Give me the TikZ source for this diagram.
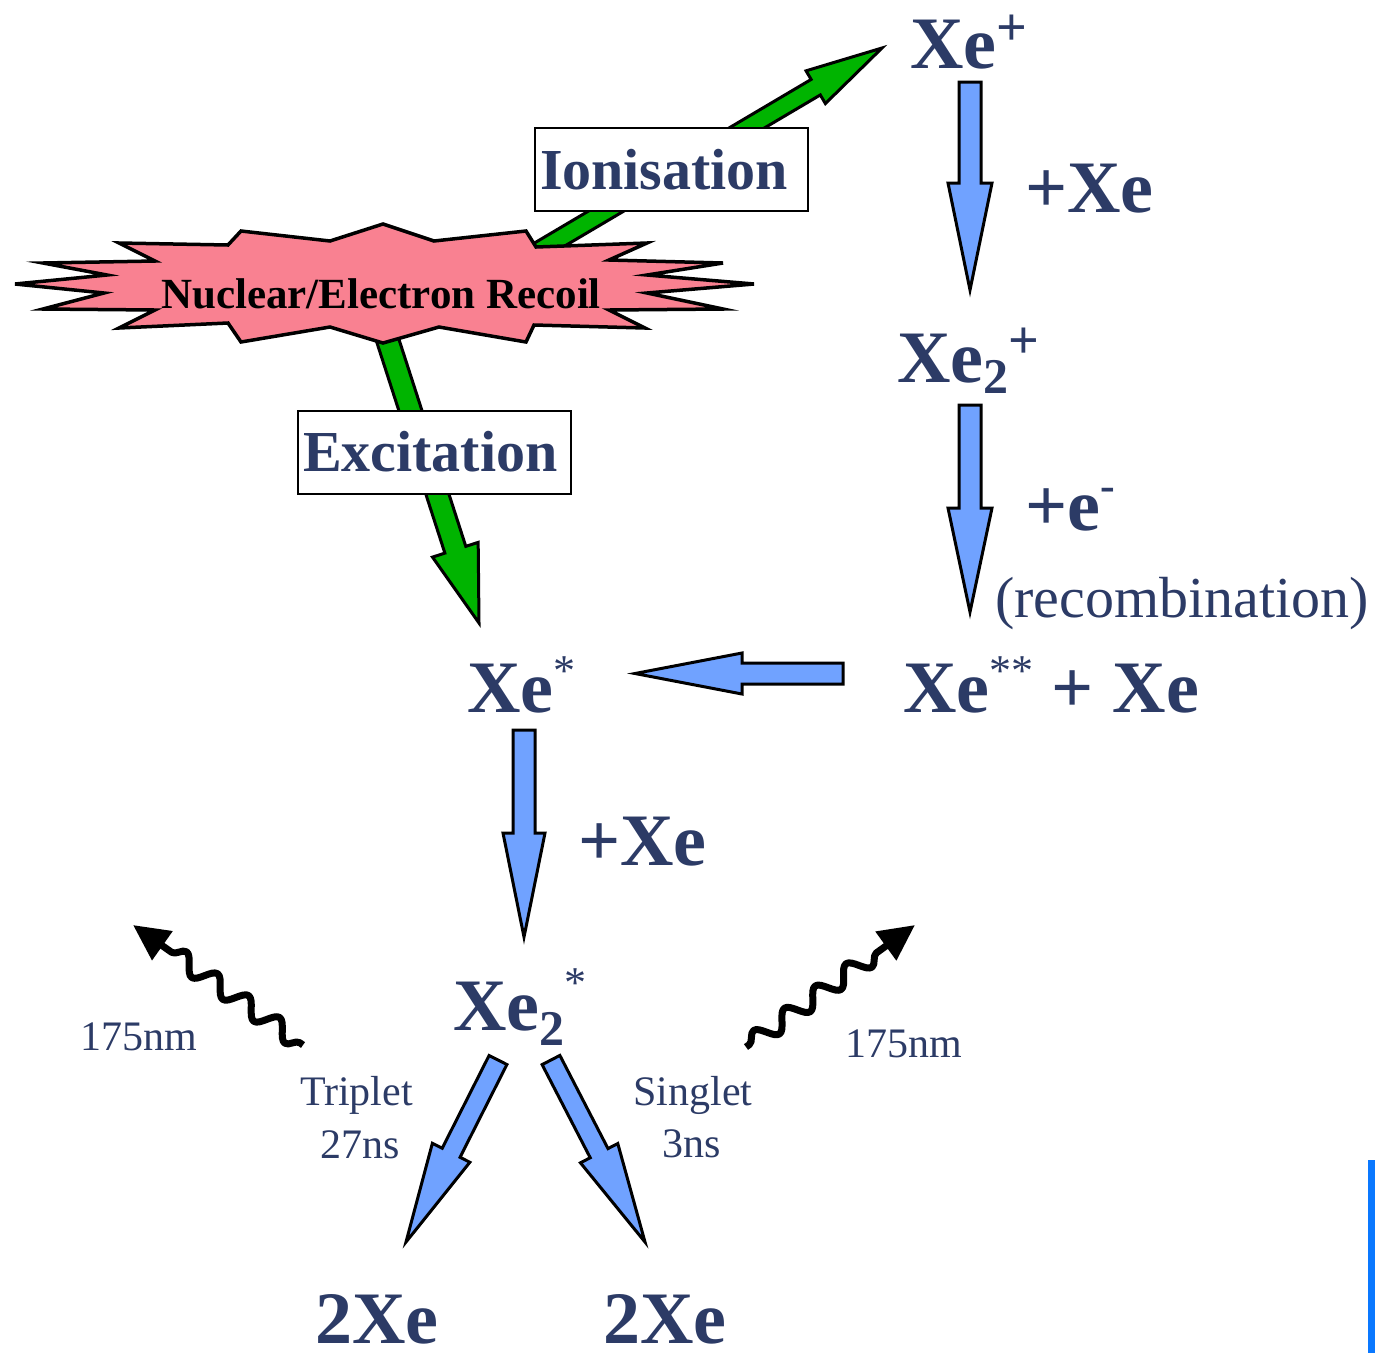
\documentclass[tikz,border=0pt]{standalone}
\usepackage{fontspec}
\setmainfont{Liberation Serif}
\usetikzlibrary{calc,arrows.meta,decorations.pathmorphing}
\definecolor{ink}{RGB}{44,59,102}
\definecolor{burstpink}{RGB}{249,129,145}
\definecolor{arrowgreen}{RGB}{0,180,0}
\definecolor{arrowblue}{RGB}{112,162,255}
\definecolor{barblue}{RGB}{10,120,255}

% block arrow between two named coordinates:
% [style]{from}{to}{shaft half-width}{head half-width}{head length}
\newcommand\blockarrow[6][]{%
  \draw[#1] ($(#2)!#4!90:(#3)$)
    -- ($(#3)!#6!(#2)!#4!-90:(#2)$)
    -- ($(#3)!#6!(#2)!#5!-90:(#2)$)
    -- (#3)
    -- ($(#3)!#6!(#2)!#5!90:(#2)$)
    -- ($(#3)!#6!(#2)!#4!90:(#2)$)
    -- ($(#2)!#4!-90:(#3)$) -- cycle;}
% raised / lowered small marks after a species name
\newcommand\upmark[2]{\raisebox{#1}{\fontsize{44}{44}\selectfont #2}}
\newcommand\plusmark[1]{\raisebox{#1}{\fontsize{54}{54}\selectfont +}}
\newcommand\downmark[2]{\raisebox{#1}{\fontsize{50}{50}\selectfont #2}}

\begin{document}
\begin{tikzpicture}[x=1pt,y=-1pt,
  species/.style={inner sep=0pt, anchor=base west, text=ink,
    font=\fontsize{74}{80}\selectfont\bfseries},
  note/.style={inner sep=0pt, anchor=base, text=ink,
    font=\fontsize{42}{48}\selectfont},
  process/.style={draw=black, line width=2pt, fill=white,
    inner xsep=5pt, inner ysep=0pt, text width=263pt, align=left,
    minimum height=83pt, text=ink,
    font=\fontsize{58}{64}\selectfont\bfseries},
  bluearrow/.style={fill=arrowblue, draw=black, line width=3pt},
  greenarrow/.style={fill=arrowgreen, draw=black, line width=3pt},
  burst/.style={fill=burstpink, draw=black, line width=3.5pt},
  photon/.style={draw=black, line width=7pt, line join=round, decorate,
    decoration={snake, amplitude=9pt, segment length=38pt,
      pre length=4pt, post length=32pt},
    -{Triangle[length=36pt,width=34pt]}}
]
\useasboundingbox (0,0) rectangle (1375,1353);

% ---------- arrow end points ----------
\coordinate (ion-s) at (520,262);  \coordinate (ion-t) at (882,48);
\coordinate (exc-s) at (386,335);  \coordinate (exc-t) at (479,623);
\coordinate (a1-s) at (970,82);    \coordinate (a1-t) at (970,290);
\coordinate (a2-s) at (970,405);   \coordinate (a2-t) at (970,612);
\coordinate (a3-s) at (843,673.5); \coordinate (a3-t) at (635,673.5);
\coordinate (a4-s) at (524,730);   \coordinate (a4-t) at (524,937);
\coordinate (a5-s) at (498,1060);  \coordinate (a5-t) at (406,1242);
\coordinate (a6-s) at (551,1060);  \coordinate (a6-t) at (645,1242);
\coordinate (phL-s) at (303,1045); \coordinate (phL-t) at (133,925);
\coordinate (phR-s) at (746,1047); \coordinate (phR-t) at (915,925);

% ---------- green process arrows (behind the recoil burst) ----------
\blockarrow[greenarrow]{ion-s}{ion-t}{9pt}{19pt}{77pt}
\blockarrow[greenarrow]{exc-s}{exc-t}{11pt}{24pt}{77pt}

% ---------- recoil burst ----------
\draw[burst] (15,284) -- (107,275) -- (43,263) -- (155,261) -- (119,243)
  -- (228,245) -- (241,231) -- (330,241) -- (383,224) -- (434,241)
  -- (526,231) -- (536,247) -- (647,243) -- (609,260) -- (723,263)
  -- (647,275) -- (754,284) -- (647,293) -- (723,309) -- (609,310)
  -- (645,328) -- (534,325) -- (526,342) -- (439,327) -- (383,343)
  -- (330,327) -- (241,342) -- (228,323) -- (119,328) -- (155,310)
  -- (43,309) -- (104,293) -- cycle;
\node[inner sep=0pt, anchor=base, font=\fontsize{43}{48}\selectfont\bfseries]
  (recoil) at (381,308) {Nuclear/Electron Recoil};

% ---------- process labels ----------
\node[process] (ionbox) at (671.5,169.5) {Ionisation};
\node[process] (excbox) at (434.5,452) {Excitation};

% ---------- species ----------
\node[species] (xeion) at (910,68) {Xe\plusmark{23pt}};
\node[species] (xe2ion) at (897,382) {Xe\downmark{-11pt}{2}\plusmark{24pt}};
\node[species] (xess) at (903,712) {Xe\upmark{27pt}{\mdseries **} + Xe};
\node[species] (xes) at (467,712) {Xe\upmark{27pt}{\mdseries *}};
\node[species] (xe2s) at (453,1030) {Xe\downmark{-15pt}{2}\upmark{33pt}{\mdseries *}};
\node[species] (twoxeL) at (315,1343) {2Xe};
\node[species] (twoxeR) at (603,1343) {2Xe};

% ---------- reaction steps ----------
\node[species] (plusxeA) at (1025,212) {+Xe};
\node[species] (pluse) at (1025,530) {+e\upmark{30pt}{-}};
\node[inner sep=0pt, anchor=base west, text=ink, font=\fontsize{58}{64}\selectfont]
  (recomb) at (995,617) {(recombination)};
\node[species] (plusxeB) at (578,865) {+Xe};

\blockarrow[bluearrow]{a1-s}{a1-t}{11pt}{22pt}{107pt}
\blockarrow[bluearrow]{a2-s}{a2-t}{11pt}{22pt}{104pt}
\blockarrow[bluearrow]{a3-s}{a3-t}{10.5pt}{20.5pt}{107pt}
\blockarrow[bluearrow]{a4-s}{a4-t}{11pt}{21pt}{104pt}
\blockarrow[bluearrow]{a5-s}{a5-t}{10pt}{21pt}{100pt}
\blockarrow[bluearrow]{a6-s}{a6-t}{10pt}{21pt}{100pt}

% ---------- decay channels and photons ----------
\node[note] (triplet) at (356.5,1105) {Triplet};
\node[note] (tripletT) at (360,1158) {27ns};
\node[note] (singlet) at (693,1105) {Singlet};
\node[note] (singletT) at (691.5,1157) {3ns};
\node[note] (nmL) at (138.5,1050) {175nm};
\node[note] (nmR) at (903.5,1057) {175nm};

\draw[photon] (phL-s) -- (phL-t);
\draw[photon] (phR-s) -- (phR-t);

% ---------- edge bar ----------
\fill[barblue] (1368,1160) rectangle (1375,1353);
\end{tikzpicture}
\end{document}
